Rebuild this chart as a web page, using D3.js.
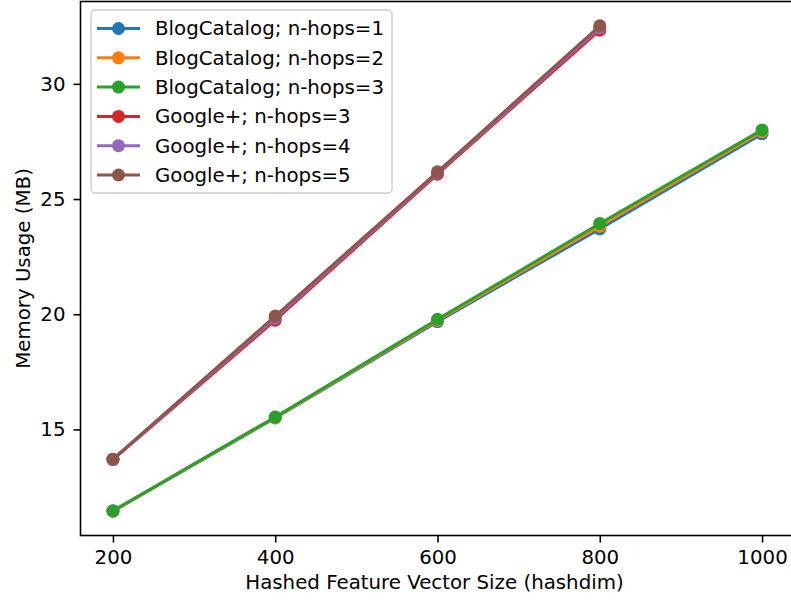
<!DOCTYPE html>
<html lang="en">
<head>
<meta charset="UTF-8">
<title>memory usage</title>
<script src="https://d3js.org/d3.v7.min.js"></script>
<style>
  body { margin: 0; background: #fff; }
  svg { font-family: "DejaVu Sans", sans-serif; }
</style>
</head>
<body>
<svg width="791" height="600"></svg>
<script>
// data
var hashdim = [200, 400, 600, 800, 1000];
var bc1 = [11.45, 15.50, 19.68, 23.70, 27.83];
var bc2 = [11.46, 15.52, 19.73, 23.82, 27.92];
var bc3 = [11.47, 15.54, 19.78, 23.94, 28.00];
var gp3 = [13.69, 19.74, 26.08, 32.33];
var gp4 = [13.70, 19.83, 26.13, 32.43];
var gp5 = [13.71, 19.92, 26.18, 32.52];
var seriesNames = ['BlogCatalog; n-hops=1', 'BlogCatalog; n-hops=2', 'BlogCatalog; n-hops=3',
                   'Google+; n-hops=3', 'Google+; n-hops=4', 'Google+; n-hops=5'];
var xTicks = [200, 400, 600, 800, 1000];
var yTicks = [15, 20, 25, 30];

var colors = ['#1f77b4', '#ff7f0e', '#2ca02c', '#d62728', '#9467bd', '#8c564b'];
var allSeries = [bc1, bc2, bc3, gp3, gp4, gp5];

var series = allSeries.map(function (vals, i) {
    return {
        name: seriesNames[i],
        color: colors[i],
        points: vals.map(function (v, j) { return {x: hashdim[j], y: v}; })
    };
});

var svg = d3.select('svg');
var plotL = 80.5, plotR = 794.5, plotT = 1.5, plotB = 535.5;

// matplotlib style 5% margins
var allY = d3.merge(allSeries);
var yMin = d3.min(allY), yMax = d3.max(allY);
var yPad = (yMax - yMin) * 0.05;
var xPad = (d3.max(hashdim) - d3.min(hashdim)) * 0.05;

var x = d3.scaleLinear()
    .domain([d3.min(hashdim) - xPad, d3.max(hashdim) + xPad])
    .range([plotL, plotR]);
var y = d3.scaleLinear()
    .domain([yMin - yPad, yMax + yPad])
    .range([plotB, plotT]);

var fontSize = 19.8;
var markerR = 6.5;

// axes
var xAxis = svg.append('g')
    .attr('transform', 'translate(0,' + plotB + ')')
    .call(d3.axisBottom(x).tickValues(xTicks).tickSize(7).tickPadding(7).tickFormat(d3.format('d')));
var yAxis = svg.append('g')
    .attr('transform', 'translate(' + plotL + ',0)')
    .call(d3.axisLeft(y).tickValues(yTicks).tickSize(7).tickPadding(8).tickFormat(d3.format('d')));

[xAxis, yAxis].forEach(function (a) {
    a.select('.domain').remove();
    a.selectAll('line').attr('stroke', '#000').attr('stroke-width', 1.6);
    a.selectAll('text').attr('fill', '#000').style('font-size', fontSize + 'px')
        .style('font-family', '"DejaVu Sans", sans-serif');
});

// frame
svg.append('rect')
    .attr('x', plotL).attr('y', plotT)
    .attr('width', plotR - plotL).attr('height', plotB - plotT)
    .attr('fill', 'none').attr('stroke', '#000').attr('stroke-width', 1.6);

// lines and markers
var line = d3.line()
    .x(function (d) { return x(d.x); })
    .y(function (d) { return y(d.y); });

series.forEach(function (s) {
    var g = svg.append('g');
    g.append('path')
        .attr('d', line(s.points))
        .attr('fill', 'none')
        .attr('stroke', s.color)
        .attr('stroke-width', 3)
        .attr('stroke-linejoin', 'round')
        .attr('stroke-linecap', 'square');
    g.selectAll('circle')
        .data(s.points)
        .enter()
        .append('circle')
        .attr('cx', function (d) { return x(d.x); })
        .attr('cy', function (d) { return y(d.y); })
        .attr('r', markerR)
        .attr('fill', s.color);
});

// axis labels
svg.append('text')
    .attr('x', (plotL + plotR) / 2 - 3)
    .attr('y', 589)
    .attr('text-anchor', 'middle')
    .style('font-size', fontSize + 'px')
    .text('Hashed Feature Vector Size (hashdim)');

svg.append('text')
    .attr('transform', 'translate(30,' + ((plotT + plotB) / 2) + ') rotate(-90)')
    .attr('text-anchor', 'middle')
    .style('font-size', fontSize + 'px')
    .text('Memory Usage (MB)');

// legend
var legend = svg.append('g');
legend.append('rect')
    .attr('x', 91).attr('y', 10)
    .attr('width', 301).attr('height', 183)
    .attr('rx', 4)
    .attr('fill', '#fff').attr('fill-opacity', 0.8)
    .attr('stroke', '#ccc').attr('stroke-width', 1.4);

var items = legend.selectAll('.item')
    .data(series)
    .enter()
    .append('g')
    .attr('class', 'item')
    .attr('transform', function (d, i) { return 'translate(0,' + (28.5 + i * 29.3) + ')'; });

items.append('line')
    .attr('x1', 97).attr('x2', 140)
    .attr('stroke', function (d) { return d.color; })
    .attr('stroke-width', 3);
items.append('circle')
    .attr('cx', 118.5).attr('r', markerR)
    .attr('fill', function (d) { return d.color; });
items.append('text')
    .attr('x', 155)
    .attr('dy', '0.35em')
    .style('font-size', fontSize + 'px')
    .text(function (d) { return d.name; });
</script>
</body>
</html>
